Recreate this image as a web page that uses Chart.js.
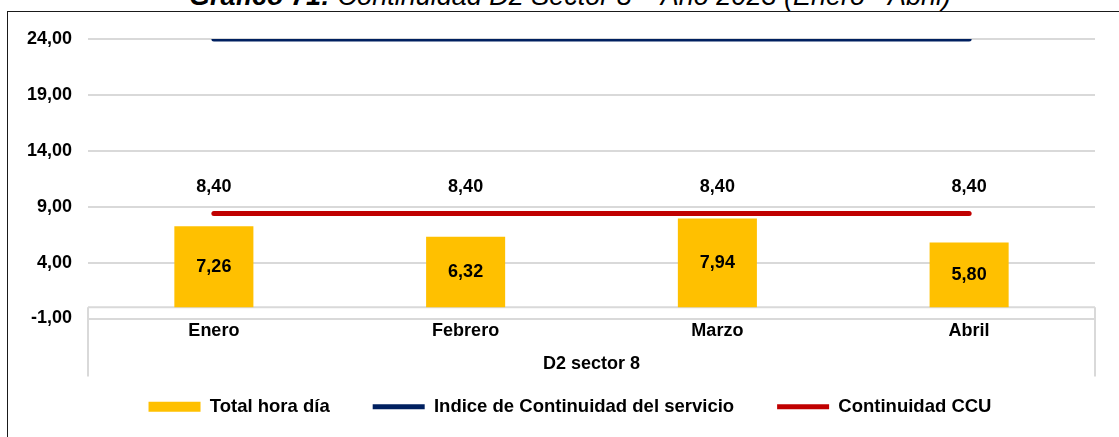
<!DOCTYPE html>
<html>
<head>
<meta charset="utf-8">
<script src="https://cdn.jsdelivr.net/npm/chart.js@4.4.1/dist/chart.umd.min.js"></script>
<style>
  html, body { margin: 0; padding: 0; background: #fff; overflow: hidden; }
  #wrap { position: relative; width: 1119px; height: 437px; overflow: hidden; background: #fff; }
  #frame { position: absolute; left: 7px; top: 11px; width: 1200px; height: 500px;
           border: 1.5px solid #1a1a1a; box-sizing: border-box; }
  #title { position: absolute; left: 0; width: 1140px; top: -17px; text-align: center;
           font-family: "Liberation Sans", Arial, sans-serif; font-size: 27px; line-height: 26px;
           font-style: italic; color: #000; white-space: nowrap; }
  canvas { position: absolute; left: 0; top: 0; }
</style>
</head>
<body>
<div id="wrap">
  <div id="title"><b>Gráfico 71:</b> Continuidad D2 Sector 8 – Año 2023 (Enero - Abril)</div>
  <div id="frame"></div>
  <canvas id="c" width="1119" height="437"></canvas>
</div>
<script>
// Months shown on the category axis and the group they belong to
const categories = ['Enero', 'Febrero', 'Marzo', 'Abril'];
const groupLabel = 'D2 sector 8';

// Series values (hours per day)
const totalHoraDia = [7.26, 6.32, 7.94, 5.80];
const indiceContinuidad = [24, 24, 24, 24];
const continuidadCCU = [8.40, 8.40, 8.40, 8.40];

// Value-axis ticks
const yTicks = [-1, 4, 9, 14, 19, 24];

const FONT = '"Liberation Sans", Arial, sans-serif';
const fmt = v => v.toFixed(2).replace('.', ',');

// Light frame around the category labels, hanging from the zero line
const categoryBox = {
  id: 'categoryBox',
  beforeDatasetsDraw(chart) {
    const { ctx, chartArea: { left, right }, scales: { x, y } } = chart;
    const y0 = y.getPixelForValue(0);
    const yb = x.bottom + 22;
    ctx.save();
    ctx.strokeStyle = '#d9d9d9';
    ctx.lineWidth = 2;
    ctx.beginPath();
    ctx.moveTo(left, y0); ctx.lineTo(right, y0);
    ctx.moveTo(left, y0); ctx.lineTo(left, yb);
    ctx.moveTo(right, y0); ctx.lineTo(right, yb);
    ctx.stroke();
    ctx.restore();
  }
};

// Nudge the legend row slightly right of the canvas centre
const legendNudge = {
  id: 'legendNudge',
  afterLayout(chart) {
    const lg = chart.legend;
    lg.left += 10;
    lg.right += 10;
  }
};

// Value labels: centred inside the bars, above the CCU line
const valueLabels = {
  id: 'valueLabels',
  afterDatasetsDraw(chart) {
    const { ctx } = chart;
    ctx.save();
    ctx.font = 'bold 18px ' + FONT;
    ctx.fillStyle = '#000';
    ctx.textAlign = 'center';
    ctx.textBaseline = 'middle';
    chart.data.datasets.forEach((ds, i) => {
      if (!ds.showValues) return;
      const meta = chart.getDatasetMeta(i);
      meta.data.forEach((el, j) => {
        const ty = ds.type === 'bar' ? (el.y + el.base) / 2 : el.y - 26;
        ctx.fillText(fmt(ds.data[j]), el.x, ty);
      });
    });
    ctx.restore();
  }
};

new Chart(document.getElementById('c'), {
  data: {
    labels: categories,
    datasets: [
      {
        type: 'bar',
        label: 'Total hora día',
        data: totalHoraDia,
        backgroundColor: '#FFC000',
        borderWidth: 0,
        categoryPercentage: 0.314,
        barPercentage: 1,
        order: 3,
        showValues: true
      },
      {
        type: 'line',
        label: 'Indice de Continuidad del servicio',
        data: indiceContinuidad,
        borderColor: '#002060',
        backgroundColor: '#002060',
        borderWidth: 5,
        borderCapStyle: 'round',
        pointRadius: 0,
        pointHoverRadius: 0,
        order: 1
      },
      {
        type: 'line',
        label: 'Continuidad CCU',
        data: continuidadCCU,
        borderColor: '#C00000',
        backgroundColor: '#C00000',
        borderWidth: 5,
        borderCapStyle: 'round',
        pointRadius: 0,
        pointHoverRadius: 0,
        order: 2,
        showValues: true
      }
    ]
  },
  options: {
    responsive: false,
    animation: false,
    layout: { padding: { left: 25, right: 24, top: 39, bottom: 11 } },
    scales: {
      x: {
        offset: true,
        grid: { display: false },
        border: { display: false },
        ticks: { color: '#000', font: { family: FONT, size: 18, weight: 'bold' }, padding: -6 },
        title: {
          display: true,
          text: groupLabel,
          color: '#000',
          font: { family: FONT, size: 18, weight: 'bold' },
          padding: { top: 0, bottom: -20 }
        },
        afterFit: s => { s.height = 36; }
      },
      y: {
        min: -1,
        max: 24,
        afterBuildTicks: s => { s.ticks = yTicks.map(v => ({ value: v })); },
        grid: { color: '#d9d9d9', lineWidth: 2, drawTicks: false },
        border: { display: false },
        ticks: {
          color: '#000',
          font: { family: FONT, size: 18, weight: 'bold' },
          padding: 16,
          callback: v => fmt(v)
        },
        afterFit: s => { s.width = 63; }
      }
    },
    plugins: {
      legend: {
        position: 'bottom',
        labels: {
          color: '#000',
          font: { family: FONT, size: 18.5, weight: 'bold' },
          usePointStyle: true,
          pointStyleWidth: 52,
          boxHeight: 10,
          padding: 43,
          sort: (a, b) => a.datasetIndex - b.datasetIndex,
          generateLabels(chart) {
            const items = Chart.defaults.plugins.legend.labels.generateLabels(chart);
            items.forEach(it => {
              const ds = chart.data.datasets[it.datasetIndex];
              it.pointStyle = ds.type === 'line' ? 'line' : 'rect';
            });
            return items;
          }
        }
      },
      tooltip: { enabled: false }
    }
  },
  plugins: [categoryBox, legendNudge, valueLabels]
});
</script>
</body>
</html>
